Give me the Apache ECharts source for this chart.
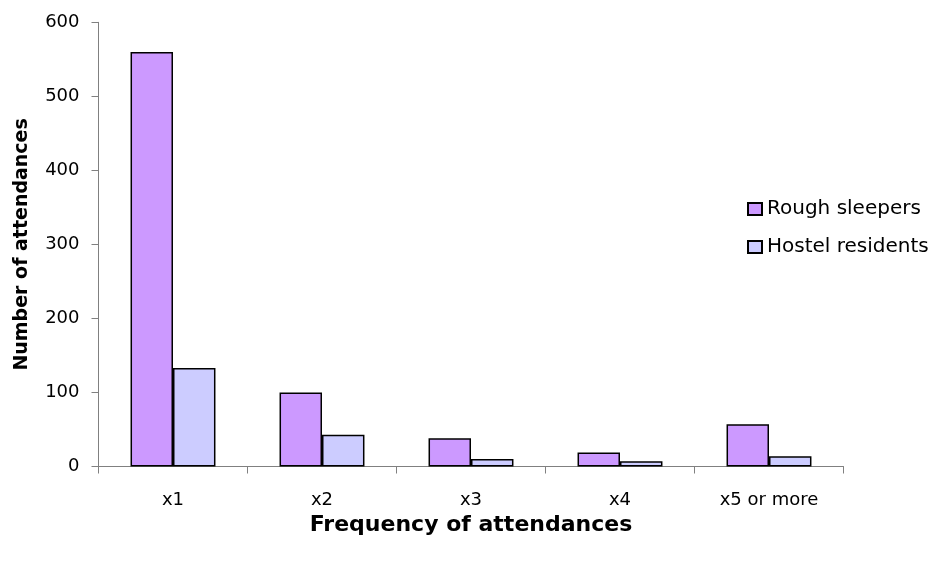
<!DOCTYPE html>
<html>
<head>
<meta charset="utf-8">
<script src="https://cdn.jsdelivr.net/npm/echarts@6/dist/echarts.min.js"></script>
<style>
  html, body { margin: 0; padding: 0; background: #ffffff; }
  #chart { width: 934px; height: 561px; }
</style>
</head>
<body>
<div id="chart"></div>
<script>
// Attendance frequency by group
const categories = ['x1', 'x2', 'x3', 'x4', 'x5 or more'];
const roughSleepers = [560, 100, 38, 19, 57];
const hostelResidents = [133, 43, 10, 7, 14];
const yTicks = { min: 0, max: 600, interval: 100 };

const FONT = '"DejaVu Sans", "Liberation Sans", Arial, sans-serif';
const AXIS_COLOR = '#808080';

const chart = echarts.init(document.getElementById('chart'), null, { renderer: 'canvas' });

chart.setOption({
  animation: false,
  backgroundColor: '#ffffff',
  textStyle: { fontFamily: FONT, color: '#000' },
  grid: {
    left: 98.5, right: 90.5, top: 22.3, bottom: 94.5,
    containLabel: false,
    outerBoundsMode: 'none'
  },
  legend: {
    orient: 'vertical',
    left: 747,
    top: 199,
    padding: 0,
    itemWidth: 14,
    itemHeight: 12,
    itemGap: 18,
    icon: 'rect',
    textStyle: { fontFamily: FONT, fontSize: 20, color: '#000' },
    data: ['Rough sleepers', 'Hostel residents']
  },
  xAxis: {
    type: 'category',
    data: categories,
    name: 'Frequency of attendances',
    nameLocation: 'middle',
    nameGap: 38,
    nameTextStyle: { fontFamily: FONT, fontSize: 22, fontWeight: 'bold', color: '#000' },
    axisLine: { lineStyle: { color: AXIS_COLOR, width: 1 } },
    axisTick: { show: true, length: 7, inside: false, lineStyle: { color: AXIS_COLOR } },
    axisLabel: { fontFamily: FONT, fontSize: 18, color: '#000', margin: 25 },
    splitLine: { show: false }
  },
  yAxis: {
    type: 'value',
    min: yTicks.min,
    max: yTicks.max,
    interval: yTicks.interval,
    name: 'Number of attendances',
    nameLocation: 'middle',
    nameGap: 67,
    nameRotate: 90,
    nameTextStyle: { fontFamily: FONT, fontSize: 19, fontWeight: 'bold', color: '#000' },
    axisLine: { show: true, lineStyle: { color: AXIS_COLOR, width: 1 } },
    axisTick: { show: true, length: 7, inside: false, lineStyle: { color: AXIS_COLOR } },
    axisLabel: { fontFamily: FONT, fontSize: 18, color: '#000', margin: 19 },
    splitLine: { show: false }
  },
  series: [
    {
      name: 'Rough sleepers',
      type: 'bar',
      data: roughSleepers,
      barGap: '0%',
      barCategoryGap: '43%',
      itemStyle: { color: '#CC99FF', borderColor: '#000', borderWidth: 1.5 }
    },
    {
      name: 'Hostel residents',
      type: 'bar',
      data: hostelResidents,
      barGap: '0%',
      barCategoryGap: '43%',
      itemStyle: { color: '#CCCCFF', borderColor: '#000', borderWidth: 1.5 }
    }
  ]
});
</script>
</body>
</html>
